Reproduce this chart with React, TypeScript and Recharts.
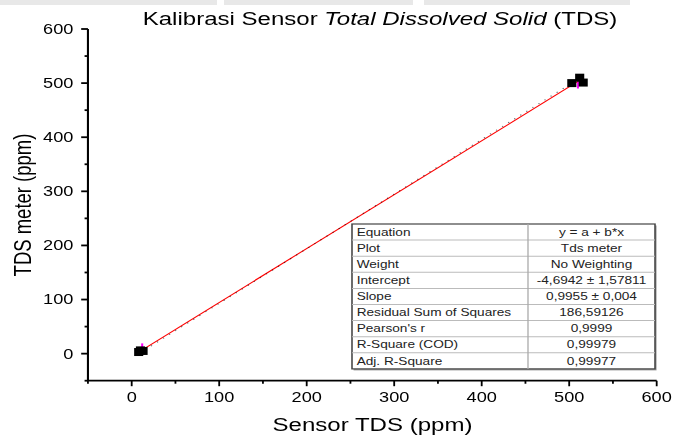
import { ScatterChart, Scatter, XAxis, YAxis, ErrorBar } from 'recharts';

// the source figure was stretched sideways, so the chart is drawn narrower and scaled in x
const STRETCH = 1.3;
const W = 519;
const H = 436;
const FONT = '"Liberation Sans", Arial, sans-serif';

// measured points (sensor reading vs. TDS meter)
const sensorTds = [8, 10, 13, 503, 512, 516];
const meterTds = [3, 6, 5, 500, 510, 501];

// mean of each group with its error
const meanSensor = [12, 510];
const meanMeter = [9, 499];
const meanErr = [10, 9];

// linear fit line ends
const fitSensor = [8, 510];
const fitMeter = [3, 503];

const axisTicks = [-50, 0, 50, 100, 150, 200, 250, 300, 350, 400, 450, 500, 550, 600];

const tableLabels = [
  'Equation',
  'Plot',
  'Weight',
  'Intercept',
  'Slope',
  'Residual Sum of Squares',
  "Pearson's r",
  'R-Square (COD)',
  'Adj. R-Square',
];
const tableValues = [
  'y = a + b*x',
  'Tds meter',
  'No Weighting',
  '-4,6942 ± 1,57811',
  '0,9955 ± 0,004',
  '186,59126',
  '0,9999',
  '0,99979',
  '0,99977',
];

const points = sensorTds.map((x, i) => ({ x, y: meterTds[i] }));
const means = meanSensor.map((x, i) => ({ x, y: meanMeter[i], err: meanErr[i] }));
const fit = fitSensor.map((x, i) => ({ x, y: fitMeter[i] }));

const TS = 5.2;
const TM = 6;

const XTick = (props: any) => {
  const { x, y, payload } = props;
  const major = payload.value % 100 === 0;
  const axisY = y - TS - TM;
  return (
    <g>
      <line x1={x} x2={x} y1={axisY} y2={axisY + (major ? 5.5 : 3)} stroke="#000" strokeWidth={1.4} />
      {major && (
        <text x={x} y={y} dy="0.71em" textAnchor="middle" fontSize={14} fill="#000" fontFamily={FONT}>
          {payload.value}
        </text>
      )}
    </g>
  );
};

const YTick = (props: any) => {
  const { x, y, payload } = props;
  const major = payload.value % 100 === 0;
  const axisX = x + TS + TM;
  return (
    <g>
      <line x1={axisX - (major ? 5.2 : 2.6)} x2={axisX} y1={y} y2={y} stroke="#000" strokeWidth={1.8} />
      {major && (
        <text x={x} y={y} dy="0.355em" textAnchor="end" fontSize={14} fill="#000" fontFamily={FONT}>
          {payload.value}
        </text>
      )}
    </g>
  );
};

const Square = (props: any) => (
  <rect x={props.cx - 3.5} y={props.cy - 4} width={7} height={8} fill="#000" />
);

const Nothing = () => <g />;

// table box (inner coords)
const TL = 352 / STRETCH;
const TR = 655 / STRETCH;
const TD = 528 / STRETCH;
const TT = 224;
const ROW = 16.1;

export default function App() {
  return (
    <div style={{ position: 'absolute', left: 0, top: 0, width: 675, height: 436, overflow: 'hidden', background: '#fff' }}>
      <div style={{ position: 'relative', width: W, height: H, transform: `scaleX(${STRETCH})`, transformOrigin: '0 0' }}>
        <ScatterChart width={W} height={H} margin={{ top: 29, right: 13.85, left: 0, bottom: 0 }}>
          <XAxis
            type="number"
            dataKey="x"
            domain={[-50, 600]}
            ticks={axisTicks}
            interval={0}
            tickLine={false}
            tickSize={TS}
            tickMargin={TM}
            tick={<XTick />}
            axisLine={{ stroke: '#000', strokeWidth: 1.8 }}
            height={55.3}
          />
          <YAxis
            type="number"
            dataKey="y"
            domain={[-50, 600]}
            ticks={axisTicks}
            interval={0}
            tickLine={false}
            tickSize={TS}
            tickMargin={TM}
            tick={<YTick />}
            axisLine={{ stroke: '#000', strokeWidth: 1.6 }}
            width={67.65}
          />
          <Scatter data={fit} shape={Nothing} line={{ stroke: '#ff0000', strokeWidth: 1 }} isAnimationActive={false} />
          <Scatter
            data={points}
            shape={Square}
            fill="#000"
            line={{ stroke: '#000', strokeWidth: 1, strokeDasharray: '1 5', strokeOpacity: 0.6 }}
            isAnimationActive={false}
          />
          <Scatter data={means} shape={Nothing} isAnimationActive={false}>
            <ErrorBar dataKey="err" direction="y" width={0} stroke="#ff00ff" strokeWidth={1.6} />
          </Scatter>
        </ScatterChart>

        <svg width={W} height={H} style={{ position: 'absolute', left: 0, top: 0, pointerEvents: 'none' }} fontFamily={FONT}>
          <rect x={0} y={0} width={217 / STRETCH} height={5} fill="#e8e8e8" />
          <rect x={224 / STRETCH} y={0} width={189 / STRETCH} height={5} fill="#e8e8e8" />
          <rect x={424 / STRETCH} y={0} width={206 / STRETCH} height={5} fill="#e8e8e8" />

          <text x={142.7 / STRETCH} y={25} fontSize={18.5} fill="#000">
            Kalibrasi Sensor <tspan fontStyle="italic">Total Dissolved Solid</tspan> (TDS)
          </text>
          <text x={372.5 / STRETCH} y={431} fontSize={18.5} fill="#000" textAnchor="middle">
            Sensor TDS (ppm)
          </text>
          <text transform={`translate(${23 / STRETCH},205) rotate(-90)`} dy="0.35em" fontSize={18.5} fill="#000" textAnchor="middle">
            TDS meter (ppm)
          </text>

          <rect x={TL + 1.2} y={TT + 1.5} width={TR - TL} height={ROW * 9} fill="#999" />
          <rect x={TL} y={TT} width={TR - TL} height={ROW * 9} fill="#fff" stroke="#444" strokeWidth={1.2} />
          {tableLabels.slice(1).map((_, i) => (
            <line key={i} x1={TL} x2={TR} y1={TT + ROW * (i + 1)} y2={TT + ROW * (i + 1)} stroke="#bbb" strokeWidth={1} />
          ))}
          <line x1={TD} x2={TD} y1={TT} y2={TT + ROW * 9} stroke="#aaa" strokeWidth={1} />
          {tableLabels.map((t, i) => (
            <text key={t} x={TL + 3.6} y={TT + ROW * (i + 0.5)} dy="0.35em" fontSize={10.5} fill="#222">
              {t}
            </text>
          ))}
          {tableValues.map((t, i) => (
            <text key={t} x={(TD + TR) / 2} y={TT + ROW * (i + 0.5)} dy="0.35em" fontSize={10.5} fill="#222" textAnchor="middle">
              {t}
            </text>
          ))}
        </svg>
      </div>
    </div>
  );
}
